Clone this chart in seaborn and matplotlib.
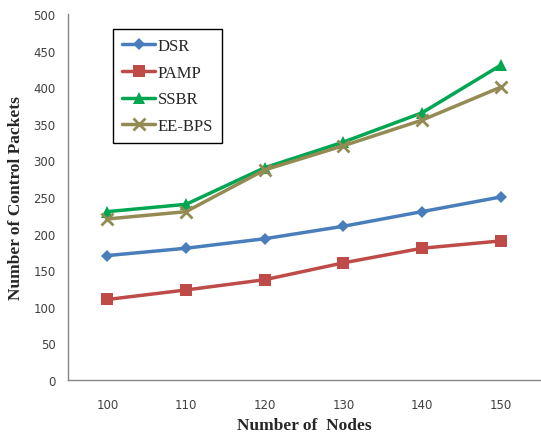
import matplotlib
matplotlib.use("Agg")
import matplotlib.pyplot as plt
from matplotlib.ticker import FixedLocator, MultipleLocator
import seaborn as sns
import pandas as pd

nodes = ["100", "110", "120", "130", "140", "150"]
dsr = [170, 180, 193, 210, 230, 250]
pamp = [110, 123, 137, 160, 180, 190]
ssbr = [230, 240, 290, 325, 365, 430]
ee_bps = [220, 230, 287, 320, 355, 400]

series = {"DSR": dsr, "PAMP": pamp, "SSBR": ssbr, "EE-BPS": ee_bps}
df = pd.concat(
    [pd.DataFrame({"Nodes": nodes, "Packets": vals, "Protocol": name})
     for name, vals in series.items()],
    ignore_index=True,
)

palette = {"DSR": "#4A7EBB", "PAMP": "#BE4B48", "SSBR": "#00A651", "EE-BPS": "#948A54"}
marker_style = {
    "DSR": dict(marker="D", markersize=6.5, markeredgewidth=0),
    "PAMP": dict(marker="s", markersize=8, markeredgewidth=0),
    "SSBR": dict(marker="^", markersize=9, markeredgewidth=0),
    "EE-BPS": dict(marker="x", markersize=8, markeredgewidth=2),
}

sns.set_style("white")
plt.rcParams["font.family"] = ["DejaVu Sans"]

fig = plt.figure(figsize=(5.41, 4.39), dpi=100)
ax = fig.add_axes([68 / 541, 58 / 439, 472 / 541, 366 / 439])

for name in series:
    sub = df[df["Protocol"] == name]
    sns.lineplot(data=sub, x="Nodes", y="Packets", color=palette[name],
                 markeredgecolor=palette[name], linewidth=2.5, label=name,
                 ax=ax, **marker_style[name])

ax.set_xlim(-0.5, len(nodes) - 0.5)
ax.set_ylim(0, 500)
ax.yaxis.set_major_locator(MultipleLocator(50))
ax.xaxis.set_minor_locator(FixedLocator([i - 0.5 for i in range(len(nodes) + 1)]))
ax.tick_params(axis="x", which="major", length=0, pad=13, labelsize=8.5, labelcolor="#404040")
ax.tick_params(axis="x", which="minor", length=5, width=1, color="#868686", direction="out")
ax.tick_params(axis="y", length=5, width=1, color="#868686", direction="out",
               labelsize=8.5, labelcolor="#404040", pad=4)

for s in ["top", "right"]:
    ax.spines[s].set_visible(False)
for s in ["left", "bottom"]:
    ax.spines[s].set_color("#868686")
    ax.spines[s].set_linewidth(1)

ax.set_xlabel("Number of  Nodes", fontfamily="Liberation Serif", fontweight="bold",
              fontsize=12.5, labelpad=4)
ax.set_ylabel("Number of Control Packets", fontfamily="Liberation Serif", fontweight="bold",
              fontsize=12.5, labelpad=7)

leg = ax.legend(loc="upper left", bbox_to_anchor=(0.095, 0.96), frameon=True,
                fancybox=False, edgecolor="#000000", framealpha=1,
                prop={"family": "Liberation Serif", "size": 12},
                handlelength=2.0, handletextpad=0.15, labelspacing=0.65,
                borderpad=0.55, borderaxespad=0)
leg.get_frame().set_linewidth(1)

fig.savefig("out.png", dpi=100)
